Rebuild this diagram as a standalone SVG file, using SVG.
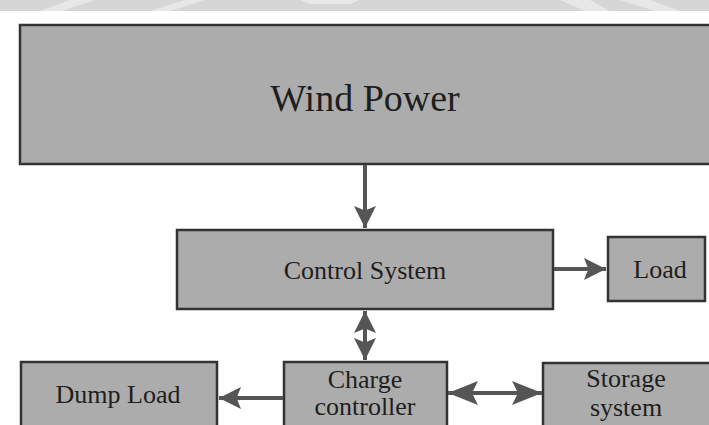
<svg xmlns="http://www.w3.org/2000/svg" width="709" height="425" viewBox="0 0 709 425">
<style>
.box{fill:#acacac;stroke:#333;stroke-width:2.5}
.t{font-family:"Liberation Serif","Times New Roman",serif;fill:#1e1e1e;text-anchor:middle}
.c{stroke:#555;stroke-width:4;fill:none}
</style>
<defs>
<marker id="ah" viewBox="0 0 10 10" refX="10" refY="5" markerWidth="5.5" markerHeight="5.5" markerUnits="strokeWidth" orient="auto-start-reverse">
<path d="M0,0 L10,5 L0,10 L2,5 Z" fill="#555"/>
</marker>
<marker id="ahL" viewBox="0 0 10 10" refX="10" refY="5" markerWidth="7.5" markerHeight="6" markerUnits="strokeWidth" orient="auto-start-reverse" preserveAspectRatio="none">
<path d="M0,0 L10,5 L0,10 L2,5 Z" fill="#555"/>
</marker>
</defs>
<rect x="0" y="0" width="709" height="425" fill="#fff"/>
<rect x="0" y="0" width="709" height="11" fill="#d6d6d6"/>
<g fill="#ececec" opacity="0.8">
<polygon points="40,11 70,0 95,0 62,11"/>
<polygon points="150,11 185,0 205,0 170,11"/>
<polygon points="560,0 590,0 610,11 585,11"/>
<polygon points="620,0 650,0 680,11 655,11"/>
<polygon points="300,0 360,0 350,4 310,4"/>
</g>
<g id="wind-power">
<rect class="box" x="20" y="25" width="700" height="139"/>
<text class="t" x="365" y="111" font-size="38">Wind Power</text>
</g>
<g id="control-system">
<rect class="box" x="177" y="230" width="376" height="79"/>
<text class="t" x="365" y="279" font-size="26">Control System</text>
</g>
<g id="load">
<rect class="box" x="608" y="237" width="97" height="64"/>
<text class="t" x="660" y="278" font-size="26">Load</text>
</g>
<g id="dump-load">
<rect class="box" x="21" y="362" width="196" height="70"/>
<text class="t" x="118" y="403" font-size="26">Dump Load</text>
</g>
<g id="charge-controller">
<rect class="box" x="284" y="362" width="163" height="70"/>
<text class="t" x="365" y="388" font-size="26">Charge</text>
<text class="t" x="365" y="415" font-size="26">controller</text>
</g>
<g id="storage-system">
<rect class="box" x="543" y="363" width="180" height="70"/>
<text class="t" x="626" y="387" font-size="26">Storage</text>
<text class="t" x="626" y="416" font-size="26">system</text>
</g>
<g id="connectors">
<line class="c" x1="365" y1="165" x2="365" y2="228" marker-end="url(#ah)"/>
<line class="c" x1="554" y1="269" x2="606" y2="269" marker-end="url(#ah)"/>
<line class="c" x1="365" y1="311" x2="365" y2="360" marker-start="url(#ah)" marker-end="url(#ah)"/>
<line class="c" x1="283" y1="398" x2="219" y2="398" marker-end="url(#ah)"/>
<line class="c" x1="448" y1="393" x2="542" y2="393" marker-start="url(#ahL)" marker-end="url(#ahL)"/>
</g>
</svg>
